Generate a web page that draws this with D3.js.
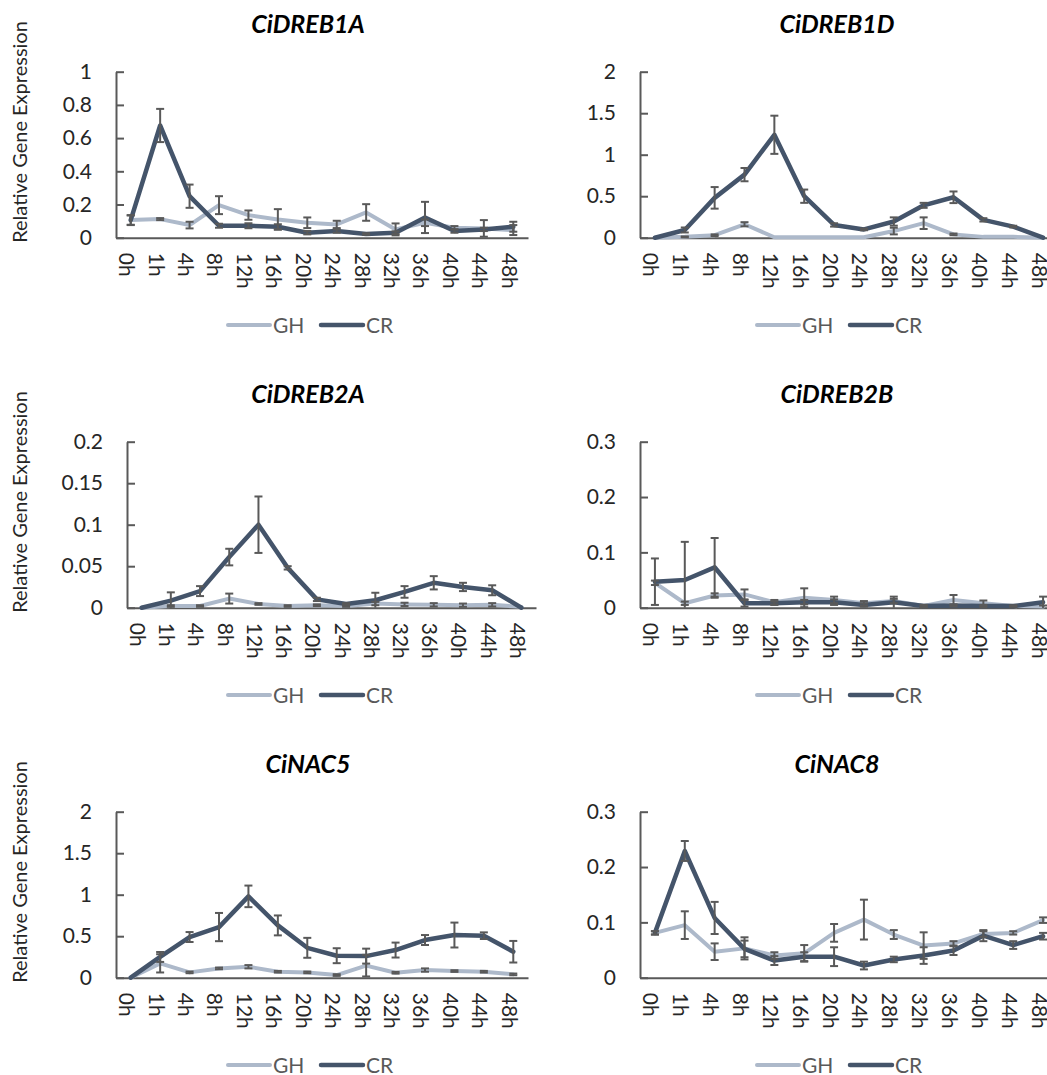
<!DOCTYPE html>
<html>
<head>
<meta charset="utf-8">
<script src="https://cdn.jsdelivr.net/npm/d3@7"></script>
<style>
  body { margin: 0; background: #fff; }
  svg { display: block; font-family: Lato, 'Open Sans', sans-serif; }
</style>
</head>
<body>
<svg id="chart" width="1047" height="1075"></svg>
<script>
// sampling times (category axis)
const times = ['0h', '1h', '4h', '8h', '12h', '16h', '20h', '24h', '28h', '32h', '36h', '40h', '44h', '48h'];
const seriesNames = ['GH', 'CR'];
const geneNames = ['CiDREB1A', 'CiDREB1D', 'CiDREB2A', 'CiDREB2B', 'CiNAC5', 'CiNAC8'];

// y axis tick values per gene
const yTicks = [
  [0, 0.2, 0.4, 0.6, 0.8, 1],
  [0, 0.5, 1, 1.5, 2],
  [0, 0.05, 0.1, 0.15, 0.2],
  [0, 0.1, 0.2, 0.3],
  [0, 0.5, 1, 1.5, 2],
  [0, 0.1, 0.2, 0.3]
];

// mean and error per gene
const dreb1aGH    = [0.106, 0.112, 0.076, 0.196, 0.136, 0.11, 0.09, 0.08, 0.152, 0.05, 0.09, 0.06, 0.056, 0.046];
const dreb1aGHErr = [0.028, 0.006, 0.02, 0.054, 0.028, 0.062, 0.032, 0.022, 0.05, 0.036, 0.02, 0.01, 0.05, 0.03];
const dreb1aCR    = [0.106, 0.676, 0.25, 0.072, 0.072, 0.066, 0.03, 0.04, 0.022, 0.03, 0.122, 0.04, 0.05, 0.066];
const dreb1aCRErr = [0.03, 0.1, 0.07, 0.012, 0.015, 0.015, 0.01, 0.01, 0.005, 0.008, 0.094, 0.01, 0.01, 0.03];

const dreb1dGH    = [0, 0.01, 0.03, 0.162, 0.005, 0.005, 0.005, 0.005, 0.08, 0.175, 0.04, 0.01, 0.01, 0];
const dreb1dGHErr = [0, 0.005, 0.01, 0.025, 0, 0, 0, 0, 0.04, 0.07, 0.01, 0, 0, 0];
const dreb1dCR    = [0, 0.093, 0.48, 0.76, 1.24, 0.5, 0.154, 0.1, 0.195, 0.39, 0.487, 0.215, 0.134, 0];
const dreb1dCRErr = [0, 0.03, 0.13, 0.08, 0.23, 0.08, 0.02, 0.01, 0.05, 0.03, 0.07, 0.02, 0.01, 0];

const dreb2aGH    = [0, 0.002, 0.002, 0.011, 0.0045, 0.002, 0.003, 0.002, 0.005, 0.004, 0.0035, 0.003, 0.0035, 0.001];
const dreb2aGHErr = [0, 0.001, 0.001, 0.006, 0.001, 0.001, 0.001, 0.001, 0.002, 0.002, 0.002, 0.002, 0.002, 0];
const dreb2aCR    = [0, 0.0085, 0.02, 0.061, 0.1, 0.048, 0.01, 0.0045, 0.009, 0.019, 0.03, 0.025, 0.021, 0];
const dreb2aCRErr = [0, 0.01, 0.006, 0.01, 0.034, 0.002, 0.002, 0.001, 0.009, 0.007, 0.008, 0.005, 0.006, 0];

const dreb2bGH    = [0.045, 0.008, 0.022, 0.024, 0.01, 0.018, 0.014, 0.008, 0.012, 0.003, 0.014, 0.008, 0.003, 0.002];
const dreb2bGHErr = [0.004, 0.003, 0.004, 0.009, 0.004, 0.017, 0.006, 0.004, 0.004, 0.002, 0.009, 0.005, 0.001, 0.002];
const dreb2bCR    = [0.047, 0.05, 0.073, 0.008, 0.008, 0.01, 0.01, 0.005, 0.01, 0.003, 0.004, 0.003, 0.003, 0.01];
const dreb2bCRErr = [0.042, 0.069, 0.053, 0.006, 0.003, 0.004, 0.005, 0.003, 0.01, 0.002, 0.002, 0.002, 0.001, 0.01];

const nac5GH    = [0, 0.173, 0.064, 0.112, 0.132, 0.072, 0.064, 0.032, 0.145, 0.06, 0.092, 0.08, 0.072, 0.04];
const nac5GHErr = [0, 0.11, 0.01, 0.01, 0.02, 0.01, 0.01, 0.01, 0.13, 0.01, 0.02, 0.01, 0.01, 0.01];
const nac5CR    = [0, 0.25, 0.49, 0.61, 0.98, 0.63, 0.36, 0.265, 0.26, 0.333, 0.454, 0.514, 0.506, 0.313];
const nac5CRErr = [0, 0.06, 0.06, 0.17, 0.13, 0.12, 0.12, 0.09, 0.09, 0.09, 0.06, 0.15, 0.04, 0.13];

const nac8GH    = [0.081, 0.095, 0.047, 0.053, 0.04, 0.044, 0.081, 0.105, 0.078, 0.058, 0.062, 0.079, 0.081, 0.104];
const nac8GHErr = [0.003, 0.025, 0.015, 0.02, 0.006, 0.015, 0.016, 0.036, 0.008, 0.024, 0.004, 0.005, 0.003, 0.005];
const nac8CR    = [0.081, 0.229, 0.108, 0.052, 0.031, 0.038, 0.038, 0.022, 0.033, 0.04, 0.049, 0.076, 0.059, 0.075];
const nac8CRErr = [0.003, 0.018, 0.029, 0.015, 0.008, 0.008, 0.017, 0.007, 0.005, 0.015, 0.008, 0.01, 0.007, 0.006];

const ghMeans = [dreb1aGH, dreb1dGH, dreb2aGH, dreb2bGH, nac5GH, nac8GH];
const ghErrors = [dreb1aGHErr, dreb1dGHErr, dreb2aGHErr, dreb2bGHErr, nac5GHErr, nac8GHErr];
const crMeans = [dreb1aCR, dreb1dCR, dreb2aCR, dreb2bCR, nac5CR, nac8CR];
const crErrors = [dreb1aCRErr, dreb1dCRErr, dreb2aCRErr, dreb2bCRErr, nac5CRErr, nac8CRErr];

const colors = { GH: '#adb9ca', CR: '#44546a' };
const axisColor = '#595959';
const textColor = '#262626';
const rowHeight = 370;
// plot area edges per panel (left column label widths differ)
const plotLeft = [116, 640, 127, 640, 116, 640];
const plotRight = [528, 1058, 536, 1058, 528, 1058];

const svg = d3.select('#chart');

geneNames.forEach((name, i) => {
  const col = i % 2;
  const rowTop = Math.floor(i / 2) * rowHeight;
  const g = svg.append('g');

  const x = d3.scaleBand().domain(times).range([plotLeft[i], plotRight[i]]);
  const cx = t => x(t) + x.bandwidth() / 2;
  const y = d3.scaleLinear()
    .domain([0, d3.max(yTicks[i])])
    .range([rowTop + 237.7, rowTop + 71.7])
    .clamp(true);

  // y axis, ticks pointing inward
  const yAxis = g.append('g')
    .attr('transform', `translate(${plotLeft[i]},0)`)
    .call(d3.axisLeft(y).tickValues(yTicks[i]).tickSize(-8).tickSizeOuter(0).tickPadding(24).tickFormat(d3.format('~g')));
  yAxis.attr('font-family', null);
  yAxis.select('.domain').attr('stroke', axisColor).attr('stroke-width', 2);
  yAxis.selectAll('.tick line').attr('stroke', axisColor).attr('stroke-width', 2);
  yAxis.selectAll('.tick text').attr('font-size', '21px').attr('fill', textColor);

  // x axis with vertical category labels
  const xAxis = g.append('g')
    .attr('transform', `translate(0,${y(0)})`)
    .call(d3.axisBottom(x).tickSize(0).tickSizeOuter(0));
  xAxis.attr('font-family', null);
  xAxis.select('.domain').attr('stroke', axisColor).attr('stroke-width', 2);
  xAxis.selectAll('.tick text')
    .attr('y', 0)
    .attr('dy', '0.55em')
    .attr('transform', 'translate(0,15) rotate(90)')
    .attr('text-anchor', 'start')
    .attr('font-size', '21px')
    .attr('fill', textColor);

  const line = d3.line().x((d, j) => cx(times[j])).y(d => y(d));
  const series = [
    { key: 'GH', means: ghMeans[i], errs: ghErrors[i], width: 4 },
    { key: 'CR', means: crMeans[i], errs: crErrors[i], width: 4.5 }
  ];

  series.forEach(s => {
    g.append('path')
      .attr('d', line(s.means))
      .attr('fill', 'none')
      .attr('stroke', colors[s.key])
      .attr('stroke-width', s.width)
      .attr('stroke-linejoin', 'round')
      .attr('stroke-linecap', 'round');
  });

  // error bars
  series.forEach(s => {
    const bars = g.append('g')
      .attr('stroke', axisColor)
      .attr('stroke-width', 2)
      .selectAll('g')
      .data(s.means.map((m, j) => ({ t: times[j], m, e: s.errs[j] })).filter(d => d.e > 0))
      .join('g');
    bars.append('line')
      .attr('x1', d => cx(d.t)).attr('x2', d => cx(d.t))
      .attr('y1', d => y(d.m - d.e)).attr('y2', d => y(d.m + d.e));
    bars.append('line')
      .attr('x1', d => cx(d.t) - 4).attr('x2', d => cx(d.t) + 4)
      .attr('y1', d => y(d.m + d.e)).attr('y2', d => y(d.m + d.e));
    bars.filter(d => d.m - d.e > 0).append('line')
      .attr('x1', d => cx(d.t) - 4).attr('x2', d => cx(d.t) + 4)
      .attr('y1', d => y(d.m - d.e)).attr('y2', d => y(d.m - d.e));
  });

  // title
  g.append('text')
    .attr('x', col === 0 ? 308 : 837)
    .attr('y', rowTop + 33)
    .attr('text-anchor', 'middle')
    .attr('font-size', '25px')
    .attr('font-weight', 'bold')
    .attr('font-style', 'italic')
    .attr('fill', '#000')
    .text(name);

  // y title only on the left column
  if (col === 0) {
    g.append('text')
      .attr('transform', `translate(20,${rowTop + 132}) rotate(-90)`)
      .attr('text-anchor', 'middle')
      .attr('dy', '0.35em')
      .attr('font-size', '20px')
      .attr('fill', textColor)
      .text('Relative Gene Expression');
  }

  // legend
  const lx = col === 0 ? 228 : 757;
  const ly = rowTop + 325;
  const legend = g.append('g').selectAll('g')
    .data(seriesNames)
    .join('g')
    .attr('transform', (d, k) => `translate(${lx + k * 93},${ly})`);
  legend.append('line')
    .attr('x1', 0).attr('x2', 42)
    .attr('stroke', d => colors[d])
    .attr('stroke-width', d => d === 'CR' ? 4.5 : 4)
    .attr('stroke-linecap', 'round');
  legend.append('text')
    .attr('x', 45)
    .attr('dy', '0.36em')
    .attr('font-size', '21px')
    .attr('fill', '#595959')
    .text(d => d);
});
</script>
</body>
</html>
